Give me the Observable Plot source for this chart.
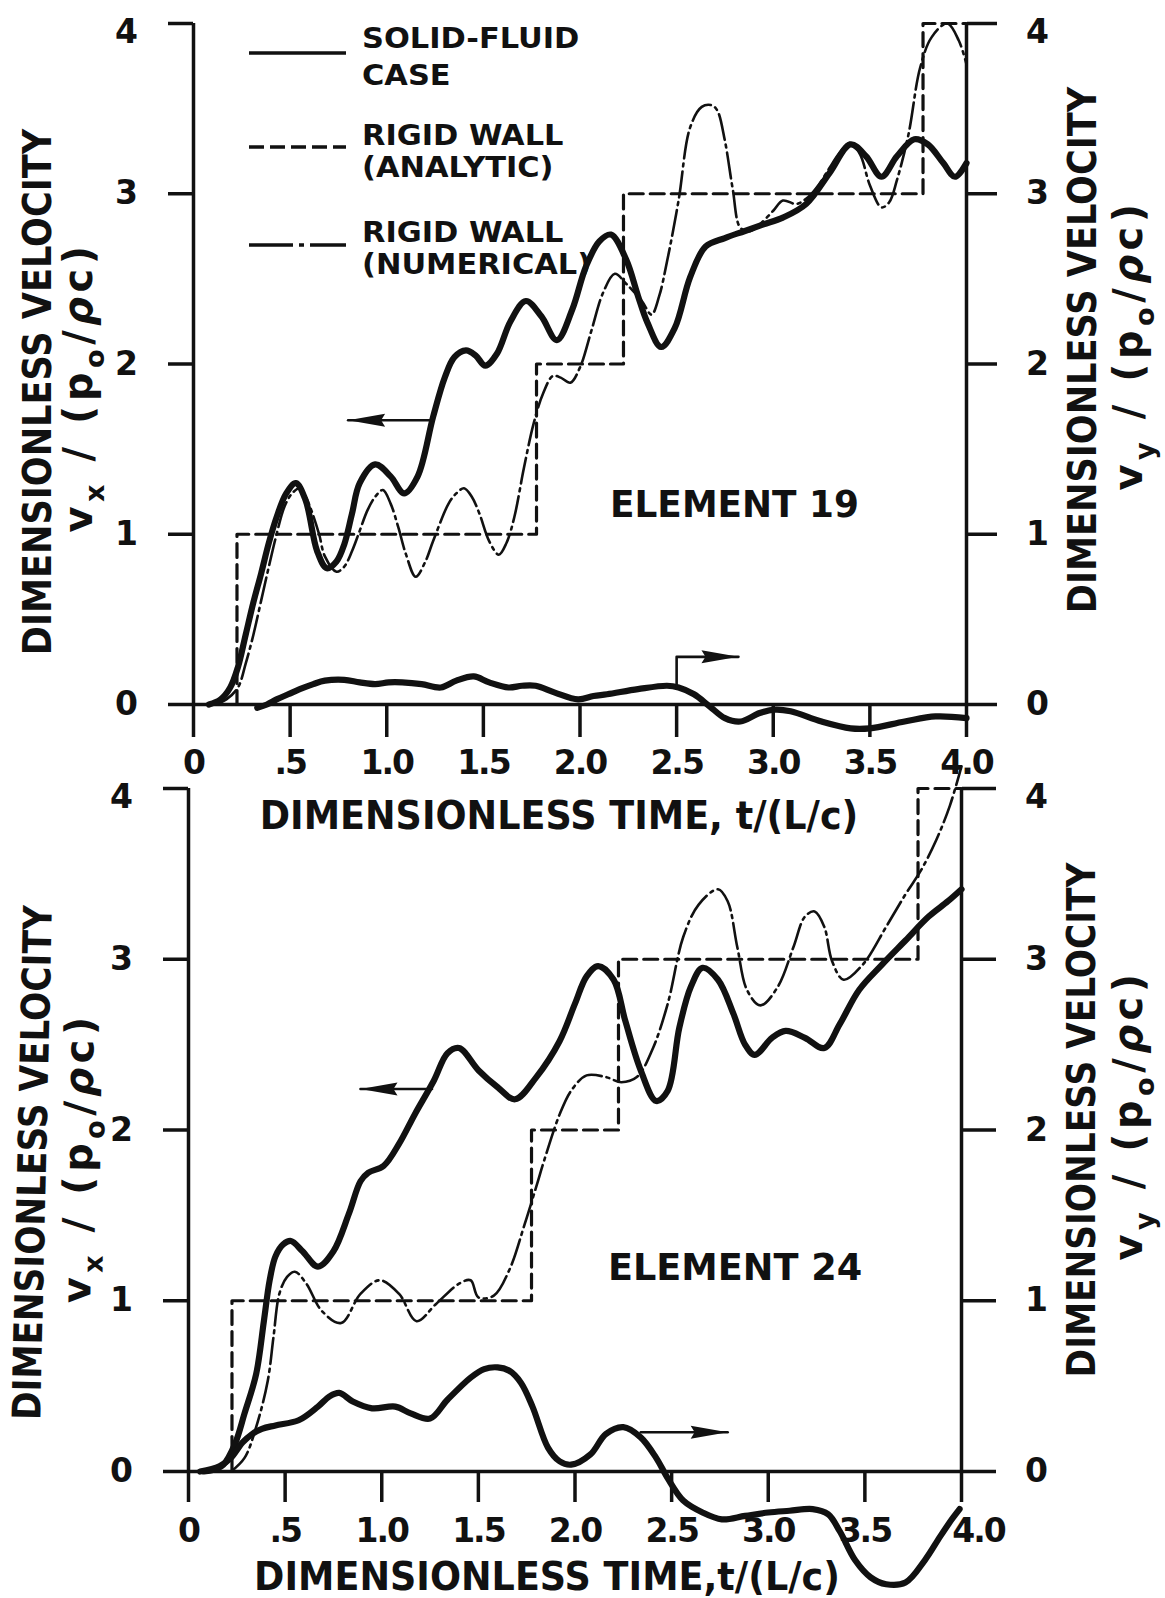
<!DOCTYPE html>
<html>
<head>
<meta charset="utf-8">
<script src="https://cdn.jsdelivr.net/npm/d3@7"></script>
<script src="https://cdn.jsdelivr.net/npm/@observablehq/plot@0.6"></script>
<style>
  html, body { margin: 0; padding: 0; background: #fff; }
  #chart { position: relative; width: 1165px; height: 1598px; overflow: hidden; background: #fff; }
  #chart svg { position: absolute; left: 0; top: 0; }
  #chart g[aria-label="x-axis tick label"] text { letter-spacing: -2px; }
</style>
</head>
<body>
<div id="chart"></div>
<script>
// ---- axes ----
const xTicks = [0, 0.5, 1, 1.5, 2, 2.5, 3, 3.5, 4];
const xTickLabels = ["0", ".5", "1.0", "1.5", "2.0", "2.5", "3.0", "3.5", "4.0"];
const yTicks = [0, 1, 2, 3, 4];

// ---- rigid wall, analytic: staircase (jump times, levels) ----
const stepTimes = [0.225, 1.775, 2.225, 3.775];
const stepLevels = [1, 2, 3, 4];

// ---- Element 19: [t/(L/c), velocity] ----
const vx19 = [[0.08,0],[0.14,0.03],[0.19,0.10],[0.23,0.22],[0.27,0.41],[0.31,0.60],[0.35,0.77],[0.39,0.95],[0.43,1.10],[0.48,1.24],[0.53,1.30],[0.58,1.20],[0.64,0.90],[0.69,0.80],[0.74,0.84],[0.78,0.94],[0.82,1.12],[0.86,1.30],[0.94,1.41],[1.02,1.34],[1.09,1.24],[1.16,1.34],[1.24,1.69],[1.30,1.92],[1.35,2.04],[1.41,2.08],[1.46,2.05],[1.51,1.99],[1.57,2.06],[1.64,2.25],[1.72,2.37],[1.80,2.28],[1.88,2.14],[1.96,2.32],[2.03,2.57],[2.10,2.72],[2.16,2.76],[2.24,2.61],[2.30,2.40],[2.35,2.24],[2.42,2.10],[2.49,2.21],[2.57,2.51],[2.65,2.69],[2.75,2.74],[2.85,2.78],[2.95,2.82],[3.05,2.86],[3.17,2.94],[3.29,3.12],[3.40,3.29],[3.48,3.22],[3.56,3.10],[3.64,3.22],[3.73,3.32],[3.80,3.29],[3.88,3.18],[3.94,3.10],[4.0,3.18]];
const rigidNum19 = [[0.11,0],[0.17,0.03],[0.23,0.10],[0.27,0.24],[0.31,0.41],[0.35,0.61],[0.39,0.81],[0.43,1.00],[0.47,1.16],[0.51,1.24],[0.55,1.27],[0.58,1.22],[0.61,1.14],[0.65,1.00],[0.68,0.87],[0.74,0.78],[0.78,0.81],[0.82,0.90],[0.86,1.02],[0.90,1.14],[0.94,1.22],[0.98,1.26],[1.02,1.18],[1.06,1.04],[1.10,0.88],[1.15,0.75],[1.20,0.84],[1.24,0.96],[1.32,1.18],[1.36,1.24],[1.40,1.27],[1.44,1.22],[1.48,1.12],[1.53,0.96],[1.58,0.88],[1.62,0.95],[1.66,1.10],[1.71,1.39],[1.76,1.65],[1.81,1.83],[1.86,1.93],[1.90,1.92],[1.95,1.89],[2.00,1.98],[2.06,2.20],[2.12,2.42],[2.18,2.53],[2.24,2.47],[2.32,2.37],[2.37,2.29],[2.41,2.40],[2.45,2.60],[2.51,2.96],[2.57,3.39],[2.63,3.51],[2.68,3.52],[2.71,3.49],[2.75,3.31],[2.79,3.03],[2.83,2.80],[2.88,2.78],[2.93,2.82],[3.00,2.90],[3.05,2.96],[3.12,2.94],[3.18,2.98],[3.24,3.06],[3.29,3.15],[3.35,3.25],[3.40,3.30],[3.45,3.23],[3.50,3.05],[3.56,2.92],[3.60,2.95],[3.64,3.08],[3.70,3.35],[3.76,3.74],[3.82,3.92],[3.90,4.00],[3.96,3.90],[4.0,3.76]];
const vy19 = [[0.33,-0.02],[0.38,0.0],[0.43,0.03],[0.49,0.06],[0.55,0.09],[0.62,0.12],[0.68,0.14],[0.78,0.145],[0.86,0.13],[0.94,0.12],[1.01,0.13],[1.08,0.13],[1.18,0.12],[1.28,0.10],[1.36,0.14],[1.45,0.165],[1.53,0.13],[1.63,0.10],[1.70,0.11],[1.77,0.11],[1.87,0.07],[1.99,0.03],[2.07,0.05],[2.14,0.06],[2.30,0.09],[2.45,0.11],[2.51,0.10],[2.59,0.06],[2.67,-0.01],[2.75,-0.08],[2.83,-0.10],[2.93,-0.05],[3.01,-0.03],[3.09,-0.04],[3.25,-0.10],[3.40,-0.14],[3.50,-0.14],[3.68,-0.10],[3.84,-0.07],[4.0,-0.08]];
const arrows19 = [
  {path: [[1.24,1.67],[0.80,1.67]], dir: "left"},
  {path: [[2.5,0.10],[2.5,0.28],[2.82,0.28]], dir: "right"}
];

// ---- Element 24 ----
const vx24 = [[0.08,0],[0.13,0.01],[0.18,0.04],[0.24,0.16],[0.29,0.34],[0.35,0.57],[0.39,0.88],[0.42,1.12],[0.45,1.26],[0.49,1.33],[0.53,1.35],[0.59,1.29],[0.67,1.20],[0.75,1.29],[0.83,1.51],[0.89,1.70],[0.93,1.75],[1.01,1.79],[1.09,1.92],[1.17,2.09],[1.27,2.29],[1.34,2.45],[1.40,2.48],[1.50,2.35],[1.60,2.25],[1.69,2.18],[1.80,2.31],[1.92,2.52],[2.00,2.74],[2.06,2.90],[2.12,2.96],[2.20,2.88],[2.26,2.64],[2.34,2.35],[2.42,2.17],[2.48,2.23],[2.54,2.60],[2.60,2.84],[2.66,2.95],[2.74,2.88],[2.82,2.68],[2.88,2.50],[2.93,2.44],[3.02,2.54],[3.09,2.58],[3.19,2.54],[3.29,2.48],[3.37,2.62],[3.47,2.82],[3.59,2.97],[3.71,3.11],[3.83,3.25],[3.93,3.34],[4.0,3.41]];
const rigidNum24 = [[0.22,0],[0.29,0.08],[0.35,0.26],[0.41,0.53],[0.44,0.79],[0.47,1.04],[0.51,1.14],[0.55,1.17],[0.61,1.10],[0.69,0.94],[0.79,0.87],[0.89,1.04],[0.99,1.12],[1.09,1.04],[1.18,0.88],[1.28,0.98],[1.40,1.10],[1.46,1.12],[1.50,1.02],[1.58,1.03],[1.66,1.18],[1.74,1.45],[1.80,1.67],[1.84,1.82],[1.92,2.09],[1.98,2.23],[2.06,2.32],[2.16,2.31],[2.24,2.28],[2.32,2.31],[2.40,2.47],[2.48,2.74],[2.56,3.13],[2.64,3.32],[2.74,3.41],[2.79,3.34],[2.84,3.07],[2.89,2.82],[2.96,2.73],[3.05,2.84],[3.13,3.07],[3.19,3.25],[3.24,3.28],[3.29,3.19],[3.33,2.99],[3.39,2.88],[3.49,2.97],[3.61,3.19],[3.71,3.38],[3.79,3.52],[3.87,3.70],[3.94,3.90],[4.0,4.13]];
const vy24 = [[0.06,0],[0.16,0.03],[0.22,0.08],[0.28,0.17],[0.33,0.22],[0.38,0.25],[0.45,0.27],[0.57,0.30],[0.67,0.38],[0.73,0.44],[0.78,0.46],[0.85,0.41],[0.95,0.37],[1.07,0.38],[1.15,0.34],[1.25,0.31],[1.34,0.42],[1.46,0.55],[1.53,0.60],[1.60,0.61],[1.66,0.59],[1.72,0.52],[1.78,0.38],[1.86,0.14],[1.92,0.06],[1.98,0.04],[2.08,0.10],[2.16,0.22],[2.25,0.26],[2.34,0.20],[2.42,0.08],[2.48,-0.04],[2.56,-0.17],[2.66,-0.24],[2.76,-0.28],[2.88,-0.26],[3.00,-0.24],[3.11,-0.23],[3.23,-0.22],[3.31,-0.25],[3.37,-0.35],[3.45,-0.52],[3.53,-0.62],[3.61,-0.66],[3.71,-0.65],[3.81,-0.52],[3.89,-0.38],[3.95,-0.28],[3.99,-0.22]];
const arrows24 = [
  {path: [[1.26,2.24],[0.89,2.24]], dir: "left"},
  {path: [[2.34,0.23],[2.79,0.23]], dir: "right"}
];

// ---- text ----
const legendItems = [
  {lines: ["SOLID-FLUID", "CASE"], dash: null},
  {lines: ["RIGID WALL", "(ANALYTIC)"], dash: "15,6"},
  {lines: ["RIGID WALL", "(NUMERICAL)"], dash: "44,6,5,6"}
];
const yTitle = "DIMENSIONLESS VELOCITY";
const vxTitle = [["v"], ["x", "sub"], [" / (p"], ["o", "sub"], ["/"], ["ρ", "it"], ["c)"]];
const vyTitle = [["v"], ["y", "sub"], [" / (p"], ["o", "sub"], ["/"], ["ρ", "it"], ["c)"]];

const W = 1165, H = 1598;
const INK = "#111";
const FONT = "'DejaVu Sans', 'Liberation Sans', sans-serif";

// staircase of the analytic rigid-wall solution
function staircase() {
  const pts = [[stepTimes[0], 0]];
  stepTimes.forEach((t, i) => pts.push([t, stepLevels[i]]));
  pts.push([4, stepLevels[stepLevels.length - 1]]);
  return pts;
}

// filled, slender arrowheads (tip at the anchor point)
const headRight = {draw(c) { c.moveTo(0, 0); c.lineTo(-37, -6.5); c.lineTo(-33, 0); c.lineTo(-37, 6.5); c.closePath(); }};
const headLeft = {draw(c) { c.moveTo(0, 0); c.lineTo(37, -6.5); c.lineTo(33, 0); c.lineTo(37, 6.5); c.closePath(); }};

function panel(f, vx, rigidNum, vy, arrows) {
  const shafts = arrows.flatMap((a, i) => a.path.map(p => ({t: p[0], v: p[1], id: i})));
  const tip = a => a.path[a.path.length - 1];
  const axisText = {fontSize: 33, textAnchor: "middle", label: null, strokeWidth: 3.5};
  const last = xTicks[xTicks.length - 1];
  return Plot.plot({
    width: W, height: H,
    marginLeft: f.left, marginRight: W - f.right, marginTop: f.top, marginBottom: H - f.bottom,
    x: {domain: [0, 4]},
    y: {domain: [0, 4]},
    style: `background: transparent; font-family: ${FONT}; font-weight: bold; color: ${INK}; overflow: visible;`,
    marks: [
      Plot.ruleX([0, 4], {y1: 0, y2: 4, stroke: INK, strokeWidth: 3.5}),
      Plot.ruleY([0], {stroke: INK, strokeWidth: 3.5}),
      Plot.axisY({...axisText, anchor: "left", ticks: yTicks, tickSize: 25, tickPadding: 42,
        tickFormat: d => d === 4 ? "" : String(d)}),
      Plot.axisY({...axisText, anchor: "left", ticks: [4], tickSize: 0, tickPadding: 67, dy: 9, tickFormat: d => String(d)}),
      Plot.axisY({...axisText, anchor: "right", ticks: yTicks, tickSize: f.rTick, tickPadding: 41,
        tickFormat: d => d === 4 ? "" : String(d)}),
      Plot.axisY({...axisText, anchor: "right", ticks: [4], tickSize: 0, tickPadding: 41 + f.rTick, dy: 9, tickFormat: d => String(d)}),
      Plot.axisX({...axisText, anchor: "bottom", ticks: xTicks, tickSize: f.xTick, tickPadding: f.xPad,
        tickFormat: d => d === last ? "" : xTickLabels[xTicks.indexOf(d)]}),
      Plot.axisX({...axisText, anchor: "bottom", ticks: [last], tickSize: 0, tickPadding: f.xTick + f.xPad, dx: f.lastDx,
        tickFormat: d => xTickLabels[xTicks.indexOf(d)]}),
      Plot.line(staircase(), {curve: "step-after", stroke: INK, strokeWidth: 3.2, strokeDasharray: "14,7"}),
      Plot.line(rigidNum, {curve: "catmull-rom", stroke: INK, strokeWidth: 2.6, strokeDasharray: "26,5,3,5"}),
      Plot.line(vx, {curve: "catmull-rom", stroke: INK, strokeWidth: 6.2, strokeLinecap: "round", strokeLinejoin: "round"}),
      Plot.line(vy, {curve: "catmull-rom", stroke: INK, strokeWidth: 6.2, strokeLinecap: "round", strokeLinejoin: "round"}),
      Plot.line(shafts, {x: "t", y: "v", z: "id", stroke: INK, strokeWidth: 2.6}),
      Plot.dot(arrows.filter(a => a.dir === "left"), {x: a => tip(a)[0], y: a => tip(a)[1], symbol: headLeft, r: 5, fill: INK, stroke: "none"}),
      Plot.dot(arrows.filter(a => a.dir === "right"), {x: a => tip(a)[0], y: a => tip(a)[1], symbol: headRight, r: 5, fill: INK, stroke: "none"})
    ]
  });
}

// text with optional subscripts; sx condenses or widens the lettering
function addText(svg, {x, y, rotate = 0, size, sx = 1, spacing = 0, anchor = "middle", parts}) {
  const t = svg.append("text")
    .attr("transform", `translate(${x},${y}) rotate(${rotate}) scale(${sx},1)`)
    .attr("text-anchor", anchor)
    .attr("font-family", FONT)
    .attr("font-weight", "bold")
    .attr("font-size", size)
    .attr("letter-spacing", spacing)
    .attr("fill", INK);
  let shift = 0;
  for (const [str, kind] of parts) {
    const target = kind === "sub" ? 0.3 * size : 0;
    const ts = t.append("tspan").text(str);
    if (target !== shift) ts.attr("dy", target - shift);
    shift = target;
    if (kind === "sub") ts.attr("font-size", 0.68 * size);
    if (kind === "it") ts.attr("font-style", "italic");
  }
  return t;
}

const chart = document.getElementById("chart");

// Element 19
const top19 = panel({left: 193, right: 966, top: 23, bottom: 704, rTick: 30, xTick: 33, xPad: 13, lastDx: 0}, vx19, rigidNum19, vy19, arrows19);
chart.appendChild(top19);
{
  const svg = d3.select(top19);
  addText(svg, {x: 51, y: 392, rotate: -90, size: 39.5, sx: 0.89, parts: [[yTitle]]});
  addText(svg, {x: 92, y: 387, rotate: -90, size: 40, spacing: 4.5, parts: vxTitle});
  addText(svg, {x: 1096, y: 350, rotate: -90, size: 39.5, sx: 0.89, parts: [[yTitle]]});
  addText(svg, {x: 1142, y: 345, rotate: -90, size: 40, spacing: 4.5, parts: vyTitle});
  addText(svg, {x: 559, y: 829, size: 38.5, sx: 0.95, parts: [["DIMENSIONLESS TIME, t/(L/c)"]]});
  addText(svg, {x: 610, y: 517, size: 37, sx: 0.97, anchor: "start", parts: [["ELEMENT 19"]]});
  const lineY = [53, 147, 245];
  const textY = [[48, 85], [145, 177], [242, 274]];
  legendItems.forEach((item, i) => {
    const ln = svg.append("line")
      .attr("x1", 249).attr("x2", 346).attr("y1", lineY[i]).attr("y2", lineY[i])
      .attr("stroke", INK).attr("stroke-width", 3.5);
    if (item.dash) ln.attr("stroke-dasharray", item.dash);
    item.lines.forEach((s, j) => addText(svg, {x: 362, y: textY[i][j], size: 29, sx: 1.05, anchor: "start", parts: [[s]]}));
  });
}

// Element 24
const bot24 = panel({left: 188, right: 961, top: 788, bottom: 1471, rTick: 34, xTick: 31, xPad: 16, lastDx: 17}, vx24, rigidNum24, vy24, arrows24);
chart.appendChild(bot24);
{
  const svg = d3.select(bot24);
  addText(svg, {x: 46, y: 1163, rotate: -88.7, size: 39.5, sx: 0.87, parts: [[yTitle]]});
  addText(svg, {x: 92, y: 1158, rotate: -89.3, size: 40, spacing: 4.5, parts: vxTitle});
  addText(svg, {x: 1095, y: 1120, rotate: -90, size: 39.5, sx: 0.87, parts: [[yTitle]]});
  addText(svg, {x: 1142, y: 1115, rotate: -90, size: 40, spacing: 4.5, parts: vyTitle});
  addText(svg, {x: 547, y: 1590, size: 38.5, sx: 0.95, parts: [["DIMENSIONLESS TIME,t/(L/c)"]]});
  addText(svg, {x: 608, y: 1280, size: 37, sx: 0.99, anchor: "start", parts: [["ELEMENT 24"]]});
}
</script>
</body>
</html>
